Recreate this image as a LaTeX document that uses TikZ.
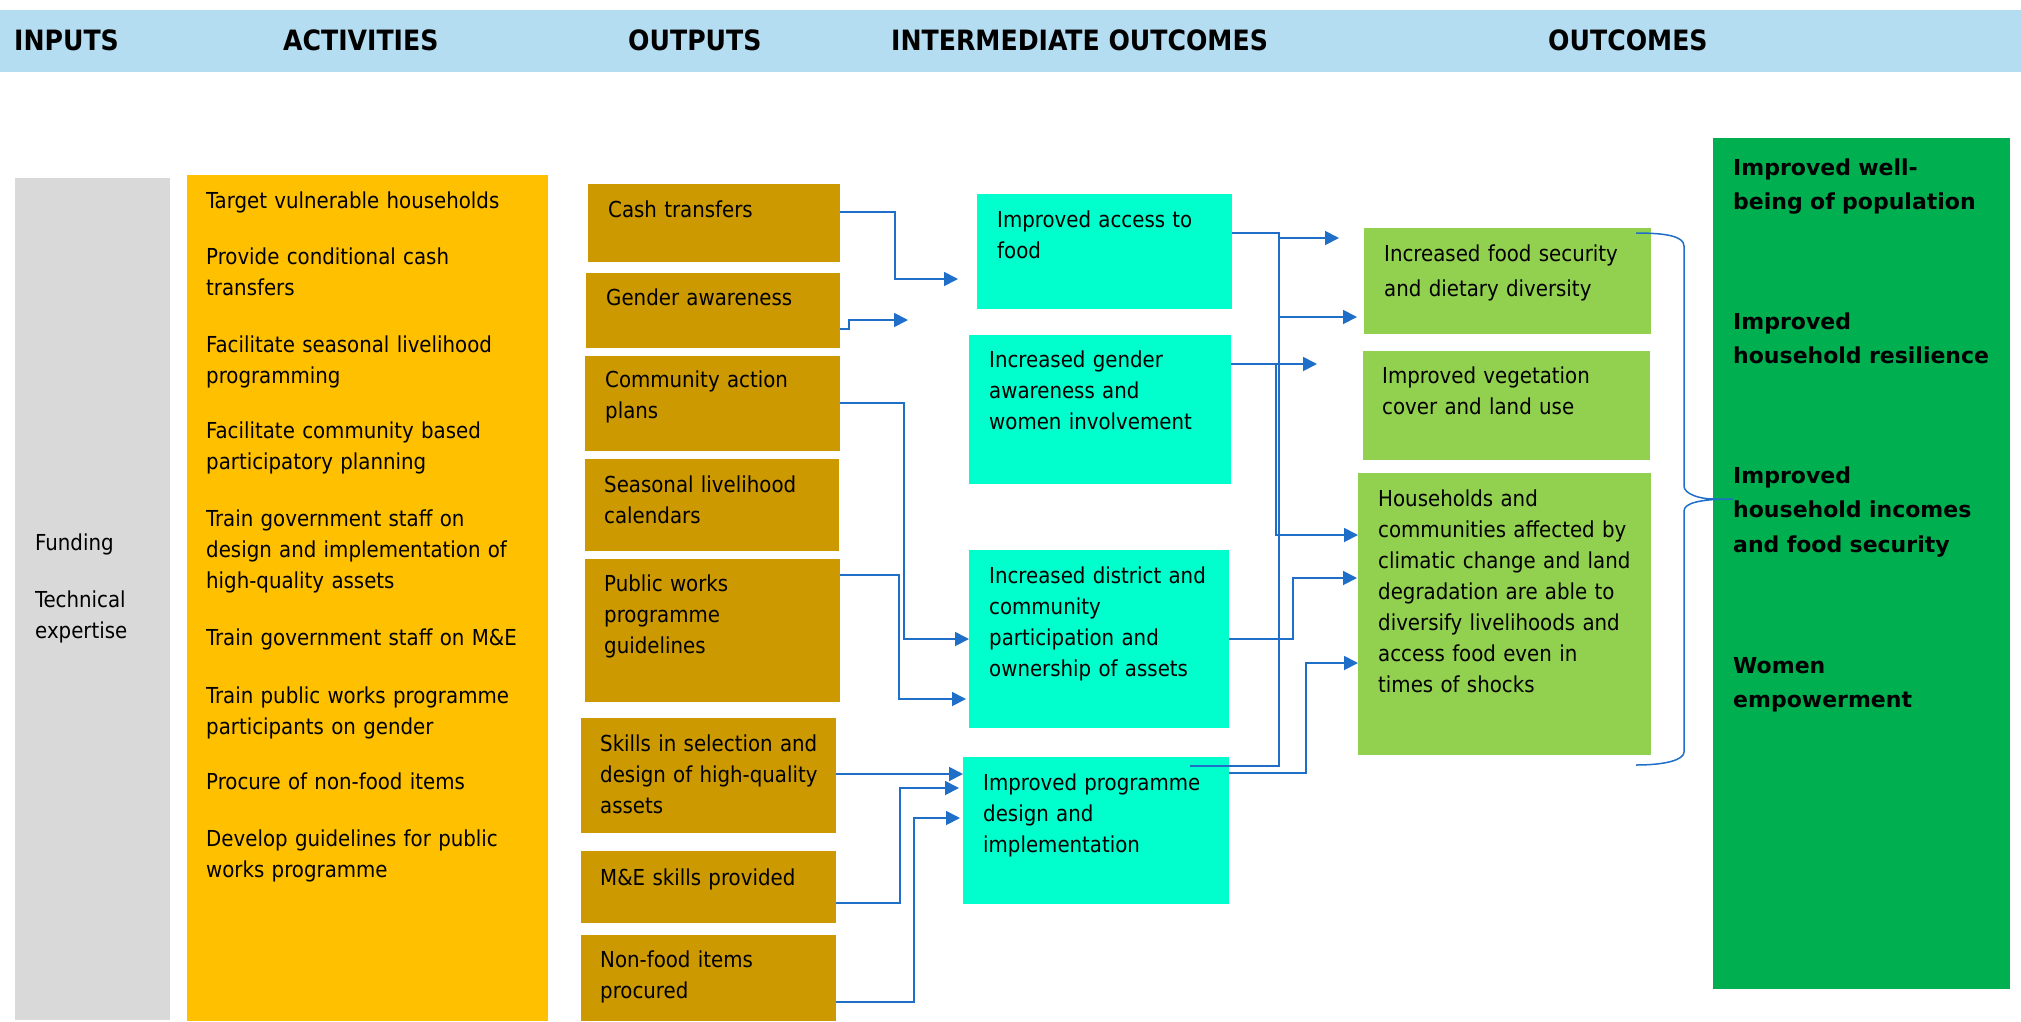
\documentclass[tikz,border=0pt]{standalone}
\usepackage{fontspec}
\setmainfont{DejaVu Sans Condensed}
\newfontfamily\wideface{DejaVu Sans}
\usepackage{xcolor}
\usetikzlibrary{arrows.meta,positioning,calc}

\definecolor{hdrblue}{HTML}{B4DDF2}
\definecolor{inpgray}{HTML}{D9D9D9}
\definecolor{actgold}{HTML}{FFC000}
\definecolor{outgold}{HTML}{CC9900}
\definecolor{midcyan}{HTML}{00FFCC}
\definecolor{resgreen}{HTML}{92D050}
\definecolor{endgreen}{HTML}{00B050}
\definecolor{linkblue}{HTML}{1F6FC8}

\tikzset{
  box/.style={anchor=north west, inner sep=0pt, outer sep=0pt},
  txt/.style={anchor=base west, inner sep=0pt, text width=#1, align=left,
    font=\fontsize{22}{31}\selectfont},
  txt/.default=240pt,
  hdr/.style={anchor=base west, inner sep=0pt, font=\fontsize{28}{30}\selectfont\bfseries},
  goal/.style={anchor=base west, inner sep=0pt, text width=270pt, align=left,
    font=\wideface\bfseries\fontsize{22}{34.5}\selectfont},
  wire/.style={draw=linkblue, line width=1.8pt},
  link/.style={wire, -{Triangle[length=14pt,width=14pt]}}
}

\begin{document}
\begin{tikzpicture}[x=1pt,y=-1pt]
    \useasboundingbox (0,0) rectangle (2021,1021);

    % Column headings
    \node[box, fill=hdrblue, minimum width=2021pt, minimum height=62pt] (band) at (0,10) {};
    \foreach \n/\x/\label in {in/14/INPUTS, act/283/ACTIVITIES, out/628/OUTPUTS,
        mid/891/INTERMEDIATE OUTCOMES, res/1548/OUTCOMES} {
        \node[hdr] (h-\n) at (\x,50) {\label};
    }

    % Inputs
    \node[box, fill=inpgray, minimum width=155pt, minimum height=842pt] (inputs) at (15,178) {};
    \node[txt=125pt] (fund) at (35,550) {Funding};
    \node[txt=125pt] (tech) at (35,607) {Technical\\expertise};

    % Activities
    \node[box, fill=actgold, minimum width=361pt, minimum height=846pt] (acts) at (187,175) {};
    \foreach \n/\y/\label in {1/208/{Target vulnerable households},
        2/264/{Provide conditional cash\\transfers},
        3/352/{Facilitate seasonal livelihood\\programming},
        4/438/{Facilitate community based\\participatory planning},
        5/526/{Train government staff on\\design and implementation of\\high-quality assets},
        6/645/{Train government staff on M\&E},
        7/703/{Train public works programme\\participants on gender},
        8/789/{Procure of non-food items},
        9/846/{Develop guidelines for public\\works programme}} {
        \node[txt=335pt] (act\n) at (206,\y) {\label};
    }

    % Outputs
    \node[box, fill=outgold, minimum width=252pt, minimum height=78pt] (cash) at (588,184) {};
    \node[box, fill=outgold, minimum width=254pt, minimum height=75pt] (gaw) at (586,273) {};
    \node[box, fill=outgold, minimum width=255pt, minimum height=95pt] (cap) at (585,356) {};
    \node[box, fill=outgold, minimum width=254pt, minimum height=92pt] (slc) at (585,459) {};
    \node[box, fill=outgold, minimum width=255pt, minimum height=143pt] (pwg) at (585,559) {};
    \node[box, fill=outgold, minimum width=255pt, minimum height=115pt] (skills) at (581,718) {};
    \node[box, fill=outgold, minimum width=255pt, minimum height=72pt] (mne) at (581,851) {};
    \node[box, fill=outgold, minimum width=255pt, minimum height=86pt] (nfi) at (581,935) {};
    \node[txt] (cash-t) at (608,217) {Cash transfers};
    \node[txt] (gaw-t) at (606,305) {Gender awareness};
    \node[txt] (cap-t) at (605,387) {Community action\\plans};
    \node[txt] (slc-t) at (604,492) {Seasonal livelihood\\calendars};
    \node[txt] (pwg-t) at (604,591) {Public works\\programme\\guidelines};
    \node[txt] (skills-t) at (600,751) {Skills in selection and\\design of high-quality\\assets};
    \node[txt] (mne-t) at (600,885) {M\&E skills provided};
    \node[txt] (nfi-t) at (600,967) {Non-food items\\procured};

    % Intermediate outcomes
    \node[box, fill=midcyan, minimum width=255pt, minimum height=115pt] (access) at (977,194) {};
    \node[box, fill=midcyan, minimum width=262pt, minimum height=149pt] (gint) at (969,335) {};
    \node[box, fill=midcyan, minimum width=260pt, minimum height=178pt] (dist) at (969,550) {};
    \node[box, fill=midcyan, minimum width=266pt, minimum height=147pt] (prog) at (963,757) {};
    \node[txt] (access-t) at (997,227) {Improved access to\\food};
    \node[txt] (gint-t) at (989,367) {Increased gender\\awareness and\\women involvement};
    \node[txt] (dist-t) at (989,583) {Increased district and\\community\\participation and\\ownership of assets};
    \node[txt] (prog-t) at (983,790) {Improved programme\\design and\\implementation};

    % Outcomes
    \node[box, fill=resgreen, minimum width=287pt, minimum height=106pt] (food) at (1364,228) {};
    \node[box, fill=resgreen, minimum width=287pt, minimum height=109pt] (veg) at (1363,351) {};
    \node[box, fill=resgreen, minimum width=293pt, minimum height=282pt] (hh) at (1358,473) {};
    \node[txt=265pt] (food-t) at (1384,261) {Increased food security\\[4pt]and dietary diversity};
    \node[txt=265pt] (veg-t) at (1382,383) {Improved vegetation\\cover and land use};
    \node[txt=265pt] (hh-t) at (1378,506) {Households and\\communities affected by\\climatic change and land\\degradation are able to\\diversify livelihoods and\\access food even in\\times of shocks};

    \node[box, fill=endgreen, minimum width=297pt, minimum height=851pt] (goalbox) at (1713,138) {};
    \foreach \n/\y/\label in {1/175/{Improved well-\\being of population},
        2/329/{Improved\\household resilience},
        3/483/{Improved\\household incomes\\and food security},
        4/673/{Women\\empowerment}} {
        \node[goal] (goal\n) at (1733,\y) {\label};
    }

    % Outputs to intermediate outcomes
    \coordinate (gaw-end) at (908,320);
    \draw[link, shorten >=19pt] (cash.east |- 0,212) -| (895,279) -- (access.west |- 0,279);
    \draw[link] (gaw.east |- 0,329) -| (849,320) -- (gaw-end);
    \draw[link] (cap.east |- 0,403) -| (904,639) -- (dist.west |- 0,639);
    \draw[link, shorten >=3pt] (pwg.east |- 0,575) -| (899,699) -- (dist.west |- 0,699);
    \draw[link] (skills.east |- 0,774) -- (prog.west |- 0,774);
    \draw[link, shorten >=4pt] (mne.east |- 0,903) -| (900,788) -- (prog.west |- 0,788);
    \draw[link, shorten >=3pt] (nfi.east |- 0,1002) -| (914,818) -- (prog.west |- 0,818);

    % Intermediate outcomes to outcomes
    \coordinate (bus) at (1279,233);
    \draw[wire] (access.east |- bus) -- (bus) |- ($(prog.north east)+(-39,9)$);
    \draw[link, shorten >=25pt] (bus |- 0,238) -- (food.west |- 0,238);
    \draw[link, shorten >=7pt] (bus |- 0,317) -- (food.west |- 0,317);
    \draw[link, shorten >=46pt] (gint.east |- 0,364) -- (veg.west |- 0,364);
    \draw[link] (gint.east |- 0,364) -| (1276,535) -- (hh.west |- 0,535);
    \draw[link, shorten >=1pt] (dist.east |- 0,639) -| (1293,578) -- (hh.west |- 0,578);
    \draw[link] (prog.east |- 0,773) -| (1306,663) -- (hh.west |- 0,663);

    % Brace to the final outcomes
    \draw[draw=linkblue, line width=1.5pt] (1636,233) .. controls (1665,233) and (1684,236) .. (1684,246)
        -- (1684,486) .. controls (1684,494) and (1700,499) .. (goalbox.west |- 0,499)
        -- (1733,499) .. controls (1700,499) and (1684,503) .. (1684,511)
        -- (1684,752) .. controls (1684,760) and (1665,765) .. (1636,765);
\end{tikzpicture}
\end{document}
